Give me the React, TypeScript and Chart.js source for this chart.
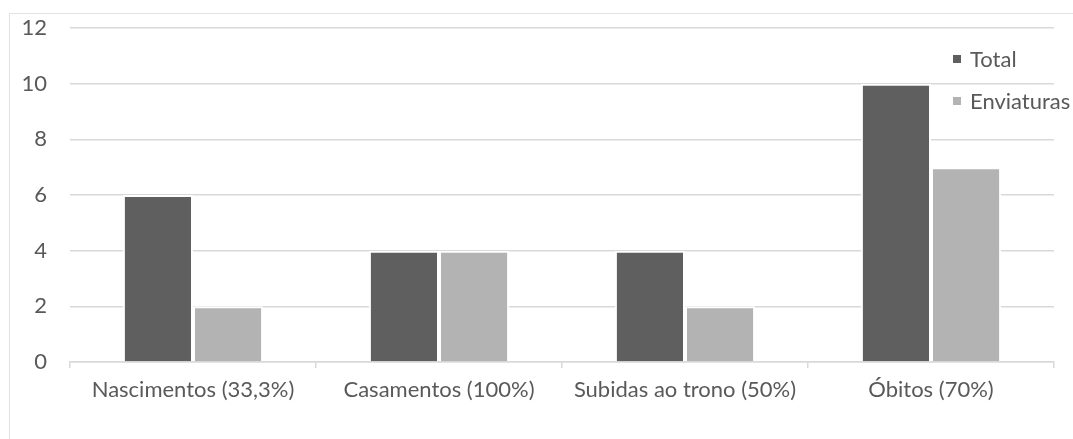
import React, { useEffect, useRef } from "react";
import { Chart, registerables } from "chart.js";

Chart.register(...registerables);

const categories = [
  "Nascimentos (33,3%)",
  "Casamentos (100%)",
  "Subidas ao trono (50%)",
  "Óbitos (70%)",
];
const totalValues = [6, 4, 4, 10];
const enviaturasValues = [2, 4, 2, 7];
const seriesNames = ["Total", "Enviaturas"];
const seriesColors = ["#5F5F5F", "#B3B3B3"];
const yTicks = [0, 2, 4, 6, 8, 10, 12];

const FONT = "Lato";
const FONT_SIZE = 22;
const TEXT_COLOR = "#595959";

const legendPlugin = {
  id: "insideLegend",
  afterDatasetsDraw(chart: any) {
    const ctx = chart.ctx;
    ctx.save();
    ctx.font = `${FONT_SIZE}px ${FONT}`;
    ctx.textBaseline = "middle";
    ctx.textAlign = "left";
    const ys = [59, 101];
    seriesNames.forEach((name, i) => {
      ctx.fillStyle = seriesColors[i];
      ctx.fillRect(953, ys[i] - 4, 8, 8);
      ctx.fillStyle = TEXT_COLOR;
      ctx.fillText(name, 970, ys[i] + 1);
    });
    ctx.restore();
  },
};

export default function App() {
  const ref = useRef<HTMLCanvasElement | null>(null);
  useEffect(() => {
    if (!ref.current) return;
    const chart = new Chart(ref.current, {
      type: "bar",
      data: {
        labels: categories,
        datasets: [
          {
            label: seriesNames[0],
            data: totalValues,
            backgroundColor: seriesColors[0],
            borderColor: "#FFFFFF",
            borderWidth: 2,
          },
          {
            label: seriesNames[1],
            data: enviaturasValues,
            backgroundColor: seriesColors[1],
            borderColor: "#FFFFFF",
            borderWidth: 2,
          },
        ],
      },
      options: {
        responsive: false,
        animation: false,
        maintainAspectRatio: false,
        datasets: { bar: { categoryPercentage: 0.57, barPercentage: 1 } },
        layout: { padding: { left: 0, right: 19, top: 28, bottom: 0 } },
        plugins: { legend: { display: false }, tooltip: { enabled: false } },
        scales: {
          x: {
            grid: {
              offset: true,
              drawOnChartArea: false,
              drawTicks: true,
              tickLength: 6,
              color: "#D9D9D9",
              lineWidth: 1.5,
            },
            border: { display: true, color: "#D9D9D9", width: 1.5 },
            ticks: {
              color: TEXT_COLOR,
              font: { family: FONT, size: FONT_SIZE },
              padding: 9,
              maxRotation: 0,
            },
            afterFit(scale: any) {
              scale.height = 439 - 362;
              scale.paddingLeft = 0;
              scale.paddingRight = 0;
            },
          },
          y: {
            min: 0,
            max: 12,
            afterBuildTicks(scale: any) {
              scale.ticks = yTicks.map((v) => ({ value: v }));
            },
            grid: { color: "#D9D9D9", lineWidth: 1.5, drawTicks: false },
            border: { display: false },
            ticks: {
              color: TEXT_COLOR,
              font: { family: FONT, size: FONT_SIZE },
              padding: 23,
            },
            afterFit(scale: any) {
              scale.width = 70;
              scale.paddingTop = 0;
              scale.paddingBottom = 0;
            },
          },
        },
      },
      plugins: [legendPlugin],
    });
    return () => chart.destroy();
  }, []);
  return (
    <div style={{ position: "fixed", left: 0, top: 0, width: 1073, height: 439, background: "#FFFFFF" }}>
      <div
        style={{
          position: "absolute",
          left: 9,
          top: 13,
          width: 1064,
          height: 426,
          borderLeft: "1.5px solid #DAE3F3",
          borderTop: "1.5px solid #DAE3F3",
          boxSizing: "border-box",
        }}
      />
      <canvas ref={ref} width={1073} height={439} style={{ position: "absolute", left: 0, top: 0 }} />
    </div>
  );
}
